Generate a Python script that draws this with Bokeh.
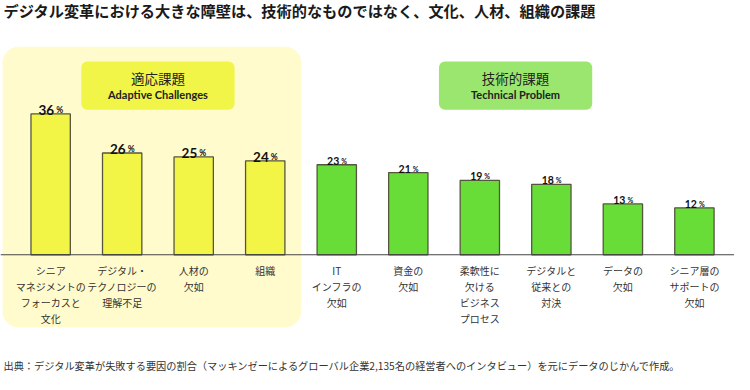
from bokeh.plotting import figure
from bokeh.models import Range1d, BoxAnnotation, Label, ColumnDataSource, Span
from bokeh.core.properties import value
from bokeh.embed import file_html
from bokeh.resources import INLINE

# ---------------- data ----------------
title_text = "デジタル変革における大きな障壁は、技術的なものではなく、文化、人材、組織の課題"
source_text = "出典：デジタル変革が失敗する要因の割合（マッキンゼーによるグローバル企業2,135名の経営者へのインタビュー）を元にデータのじかんで作成。"
categories = [
    "シニア\nマネジメントの\nフォーカスと\n文化",
    "デジタル・\nテクノロジーの\n理解不足",
    "人材の\n欠如",
    "組織",
    "IT\nインフラの\n欠如",
    "資金の\n欠如",
    "柔軟性に\n欠ける\nビジネス\nプロセス",
    "デジタルと\n従来との\n対決",
    "データの\n欠如",
    "シニア層の\nサポートの\n欠如",
]
values = [36, 26, 25, 24, 23, 21, 19, 18, 13, 12]
groups = ["adaptive"] * 4 + ["technical"] * 6
group_names_ja = ["適応課題", "技術的課題"]
group_names_en = ["Adaptive Challenges", "Technical Problem"]

# ---------------- styles ----------------
BAR_COLORS = {"adaptive": "#F2F545", "technical": "#68DD38"}
BOX_COLORS = ["#F0F548", "#9BE66E"]
PANEL_COLOR = "#FFFBCC"
JP = "Noto Sans CJK JP"
LAT = "Lato"

# helpers: reference-pixel -> data coordinates (for decorations only)
PX_PER_CAT = 72.8
X0 = 53.0
BASE_Y = 263.3
PX_PER_PCT = 3.975


def rx(px):
    return (px - X0) / PX_PER_CAT


def ry(py):
    return (BASE_Y - py) / PX_PER_PCT


xs = list(range(len(values)))
src_all = ColumnDataSource(dict(
    x=xs, v=values, cat=categories,
    color=[BAR_COLORS[g] for g in groups],
))


def sub(group):
    idx = [i for i, g in enumerate(groups) if g == group]
    return ColumnDataSource(dict(
        x=[xs[i] for i in idx],
        v=[values[i] for i in idx],
        num=[str(values[i]) for i in idx],
        pct=["%" for _ in idx],
    ))


src_a = sub("adaptive")
src_t = sub("technical")

p = figure(
    width=734, height=374,
    x_range=Range1d(rx(1.96), rx(749.0)),
    y_range=Range1d(ry(385.0), ry(4.97)),
    x_axis_type=None, y_axis_type=None,
    toolbar_location=None, output_backend="svg",
    min_border=0, outline_line_color=None,
    background_fill_color="#FFFFFF", border_fill_color="#FFFFFF",
)
p.xgrid.visible = False
p.ygrid.visible = False

# adaptive panel background
p.add_layout(BoxAnnotation(
    left=rx(4), right=rx(308), top=ry(52), bottom=ry(337),
    fill_color=PANEL_COLOR, fill_alpha=1.0, line_color=None,
    border_radius=16, level="underlay",
))

# group header boxes
adaptive_idx = [i for i, g in enumerate(groups) if g == "adaptive"]
technical_idx = [i for i, g in enumerate(groups) if g == "technical"]
centers = [
    (xs[adaptive_idx[1]] + xs[adaptive_idx[2]]) / 2,
    (xs[technical_idx[2]] + xs[technical_idx[3]]) / 2,
]
half_w = (156 / 2) / PX_PER_CAT
for c, col, ja, en in zip(centers, BOX_COLORS, group_names_ja, group_names_en):
    p.add_layout(BoxAnnotation(
        left=c - half_w, right=c + half_w, top=ry(67), bottom=ry(116),
        fill_color=col, fill_alpha=1.0, line_color=None,
        border_radius=6, level="underlay",
    ))
    p.add_layout(Label(
        x=c, y=ry(84), text=ja, text_align="center", text_baseline="middle",
        text_font=JP, text_font_size="13.5px", text_color="#222222",
    ))
    p.add_layout(Label(
        x=c, y=ry(100), text=en, text_align="center", text_baseline="middle",
        text_font=LAT, text_font_style="bold", text_font_size="11px",
        text_color="#222222",
    ))

# bars
p.vbar(x="x", top="v", bottom=0, width=0.55, source=src_all,
       fill_color="color", line_color="#55553F", line_width=1.3)

# baseline
p.add_layout(Span(location=0, dimension="width", line_color="#444444", line_width=1.2))

# value labels
p.text(x="x", y="v", text="num", source=src_a, text_align="right",
       text_baseline="alphabetic", x_offset=3.5, y_offset=-4,
       text_font=value(LAT), text_font_style="bold", text_font_size="13.5px",
       text_color="#111111")
p.text(x="x", y="v", text="pct", source=src_a, text_align="left",
       text_baseline="alphabetic", x_offset=5.5, y_offset=-4,
       text_font=value(LAT), text_font_style="bold", text_font_size="8.5px",
       text_color="#111111")
p.text(x="x", y="v", text="num", source=src_t, text_align="right",
       text_baseline="alphabetic", x_offset=2.5, y_offset=-4,
       text_font=value(LAT), text_font_style="bold", text_font_size="10.5px",
       text_color="#111111")
p.text(x="x", y="v", text="pct", source=src_t, text_align="left",
       text_baseline="alphabetic", x_offset=4.5, y_offset=-4,
       text_font=value(LAT), text_font_style="bold", text_font_size="7px",
       text_color="#111111")

# category labels
p.text(x="x", y=ry(272), text="cat", source=src_all, text_align="center",
       text_baseline="top", text_font=value(JP), text_font_size="10px",
       text_line_height=1.05, text_color="#333333")

# title and source note
p.add_layout(Label(
    x=rx(5), y=ry(15), text=title_text, text_align="left", text_baseline="middle",
    text_font=JP, text_font_style="bold", text_font_size="15.2px", text_color="#1a1a1a",
))
p.add_layout(Label(
    x=rx(5), y=ry(376), text=source_text, text_align="left", text_baseline="middle",
    text_font=JP, text_font_size="10.2px", text_color="#333333",
))

open("out.html", "w").write(file_html(p, INLINE))
